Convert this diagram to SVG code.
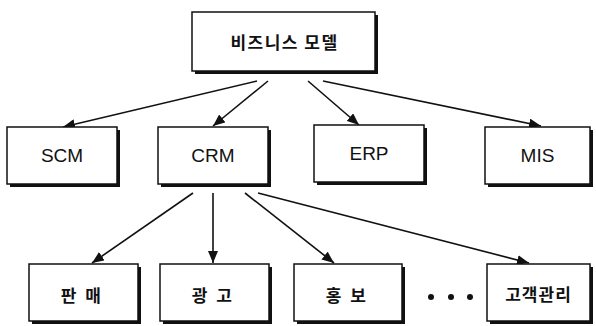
<svg xmlns="http://www.w3.org/2000/svg" width="596" height="326" viewBox="0 0 596 326">
<style>
.sh{fill:#111}
.bx{fill:#fff;stroke:#111;stroke-width:1.5}
.t{font-family:"Liberation Sans",Arial,sans-serif;font-size:19px;fill:#111;text-anchor:middle;dominant-baseline:central}
.k{font-family:"Noto Sans CJK KR","Noto Sans",sans-serif;font-size:17px;font-weight:bold;fill:#111;text-anchor:middle;dominant-baseline:central}
.w{letter-spacing:1.5px}
.w2{letter-spacing:2.5px}
.w1{letter-spacing:1px}
.c{stroke:#111;stroke-width:1.6;fill:none;marker-end:url(#ah)}
</style>
<defs>
<marker id="ah" viewBox="0 0 12 10" refX="12" refY="5" markerWidth="12" markerHeight="10" markerUnits="userSpaceOnUse" orient="auto">
<path d="M0,0 L12,5 L0,10 z" fill="#111"/>
</marker>
</defs>
<g id="connectors">
<line class="c" x1="257" y1="81" x2="63" y2="127"/>
<line class="c" x1="268" y1="81" x2="213" y2="126"/>
<line class="c" x1="308" y1="81" x2="359" y2="125"/>
<line class="c" x1="323" y1="81" x2="541" y2="126"/>
<line class="c" x1="193" y1="193" x2="92" y2="263"/>
<line class="c" x1="213" y1="193" x2="213" y2="263"/>
<line class="c" x1="245" y1="193" x2="334" y2="263"/>
<line class="c" x1="258" y1="193" x2="529" y2="263"/>
</g>
<g id="n-top">
<rect class="sh" x="195" y="15" width="183" height="59"/>
<rect class="bx" x="192" y="12" width="183" height="59"/>
<text class="k w" x="284.5" y="41.5">비즈니스 모델</text>
</g>
<g id="n-scm">
<rect class="sh" x="10" y="130" width="110" height="57"/>
<rect class="bx" x="7" y="127" width="110" height="57"/>
<text class="t" x="62" y="155.5">SCM</text>
</g>
<g id="n-crm">
<rect class="sh" x="161" y="130" width="110" height="57"/>
<rect class="bx" x="158" y="127" width="110" height="57"/>
<text class="t" x="213" y="155.5">CRM</text>
</g>
<g id="n-erp">
<rect class="sh" x="317" y="128" width="110" height="57"/>
<rect class="bx" x="314" y="125" width="110" height="57"/>
<text class="t" x="369" y="153">ERP</text>
</g>
<g id="n-mis">
<rect class="sh" x="488" y="130" width="105" height="57"/>
<rect class="bx" x="485" y="127" width="105" height="57"/>
<text class="t" x="537.5" y="155.5">MIS</text>
</g>
<g id="n-sales">
<rect class="sh" x="32" y="267" width="109" height="57"/>
<rect class="bx" x="29" y="264" width="109" height="57"/>
<text class="k w2" x="82" y="294">판 매</text>
</g>
<g id="n-ad">
<rect class="sh" x="163" y="267" width="109" height="57"/>
<rect class="bx" x="160" y="264" width="109" height="57"/>
<text class="k w2" x="213" y="294">광 고</text>
</g>
<g id="n-pr">
<rect class="sh" x="297" y="267" width="108" height="57"/>
<rect class="bx" x="294" y="264" width="108" height="57"/>
<text class="k w2" x="347" y="294">홍 보</text>
</g>
<g id="dots">
<circle cx="431" cy="297" r="3" fill="#111"/>
<circle cx="451" cy="297" r="3" fill="#111"/>
<circle cx="470" cy="297" r="3" fill="#111"/>
</g>
<g id="n-cust">
<rect class="sh" x="490" y="267" width="103" height="57"/>
<rect class="bx" x="487" y="264" width="103" height="57"/>
<text class="k w1" x="538.5" y="293.5">고객관리</text>
</g>
</svg>
